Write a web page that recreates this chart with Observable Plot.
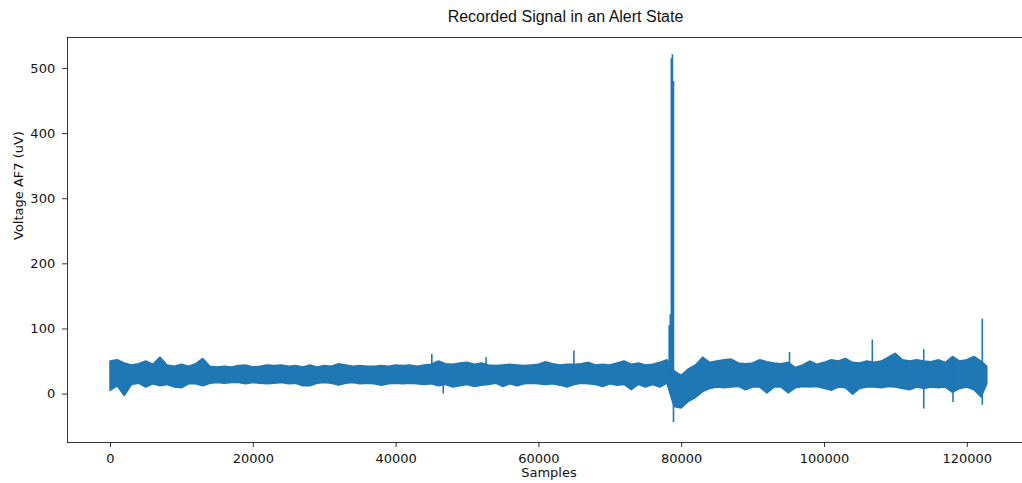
<!DOCTYPE html>
<html><head><meta charset="utf-8">
<script src="https://cdn.jsdelivr.net/npm/d3@7"></script>
<script src="https://cdn.jsdelivr.net/npm/@observablehq/plot@0.6"></script>
<style>
body{margin:0;background:#fff;}
#wrap{position:relative;width:1022px;height:483px;overflow:hidden;}
#wrap svg{position:absolute;left:0;top:0;}
#title{position:absolute;top:8px;left:0;width:1131px;text-align:center;font:16px "Liberation Sans",Arial,sans-serif;color:#111;line-height:1.15;}
</style></head><body>
<div id="wrap"></div>
<script>
// Envelope of the dense signal, read per 1000-sample bin (upper and lower edge, uV)
const binSize = 1000;
const upper = [50,52,47,44,46,50,45,56,44,42, 45,42,46,54,42,41,42,41,43,44,
  41,42,44,43,44,42,43,41,44,41, 43,42,46,44,42,43,42,42,43,42,
  44,43,44,42,44,45,50,46,45,47, 48,45,47,44,43,44,45,44,43,44,
  45,49,46,44,45,45,46,48,44,45, 44,47,50,45,47,44,45,48,52,35,
  28,38,44,56,48,50,52,53,47,46, 47,52,49,47,46,48,40,44,50,45,
  48,52,50,54,48,47,50,48,50,56, 62,52,50,52,50,49,52,48,57,50,
  52,57,50];
const lower = [5,12,-3,14,16,10,15,12,14,10, 9,15,15,12,16,17,16,17,17,15,
  17,16,15,16,17,15,16,12,12,16, 17,16,13,16,17,15,16,15,13,15,
  16,15,16,15,14,15,12,14,10,12, 14,11,13,14,16,11,15,12,15,16,
  15,14,15,13,10,14,16,15,14,11, 15,13,14,6,14,10,14,10,16,-20,
  -22,-12,-6,3,8,10,9,10,11,6, 10,10,1,10,10,1,9,11,10,11,
  8,5,10,9,-1,8,10,10,9,11, 10,8,6,10,8,10,9,10,2,8,
  10,6,-5];
const lastSample = 122800, lastUpper = 42, lastLower = 15;

// Narrow excursions (spikes / dips)
const spikeSample = [45000, 46600, 52600, 64900, 78250, 78400, 78550, 78700, 78850, 95100, 106700, 113900, 118000, 122100];
const spikeLow    = [20,    0,     20,    20,    25,    25,    20,    -10,   -44,   15,    20,     -23,    -13,    -17];
const spikeHigh   = [61,    40,    56,    66,    105,   122,   515,   521,   480,   64,    83,     68,     50,     115];

const xTicks = [0, 20000, 40000, 60000, 80000, 100000, 120000];
const yTicks = [0, 100, 200, 300, 400, 500];
const xDomain = [-6022, 127731];
const yDomain = [-74.3, 547.5];

const env = upper.map((u, i) => ({s: i * binSize, hi: u, lo: lower[i]}));
env.push({s: lastSample, hi: lastUpper, lo: lastLower});
const spikes = spikeSample.map((s, i) => ({s, lo: spikeLow[i], hi: spikeHigh[i]}));

const blue = "#1f77b4";
const chart = Plot.plot({
  width: 1022, height: 483,
  marginLeft: 67, marginRight: 0, marginTop: 37, marginBottom: 41,
  style: {fontFamily: "DejaVu Sans", fontSize: "13px", color: "#111", background: "transparent"},
  x: {domain: xDomain},
  y: {domain: yDomain},
  marks: [
    Plot.area(env, {x1: "s", y1: "lo", y2: "hi", fill: blue, stroke: blue, strokeWidth: 1.5, strokeLinejoin: "round", curve: "linear"}),
    Plot.ruleX(spikes, {x: "s", y1: "lo", y2: "hi", stroke: blue, strokeWidth: 1.6}),
    Plot.ruleY([yDomain[0], yDomain[1]], {stroke: "#000", strokeWidth: 0.8}),
    Plot.ruleX([xDomain[0]], {stroke: "#000", strokeWidth: 0.8}),
    Plot.axisX({ticks: xTicks, tickFormat: d3.format("d"), tickSize: 5, tickPadding: 6, label: null, stroke: "#000", strokeWidth: 0.8}),
    Plot.axisY({ticks: yTicks, tickSize: 5, tickPadding: 7.3, label: null, stroke: "#000", strokeWidth: 0.8}),
    Plot.text(["Voltage AF7 (uV)"], {frameAnchor: "left", rotate: -90, dx: -49, fontSize: 13}),
    Plot.text(["Samples"], {frameAnchor: "bottom", dx: 4, dy: 34, fontSize: 13})
  ]
});
const wrap = document.getElementById("wrap");
wrap.appendChild(chart);
const t = document.createElement("div");
t.id = "title";
t.textContent = "Recorded Signal in an Alert State";
wrap.appendChild(t);
</script>
</body></html>
